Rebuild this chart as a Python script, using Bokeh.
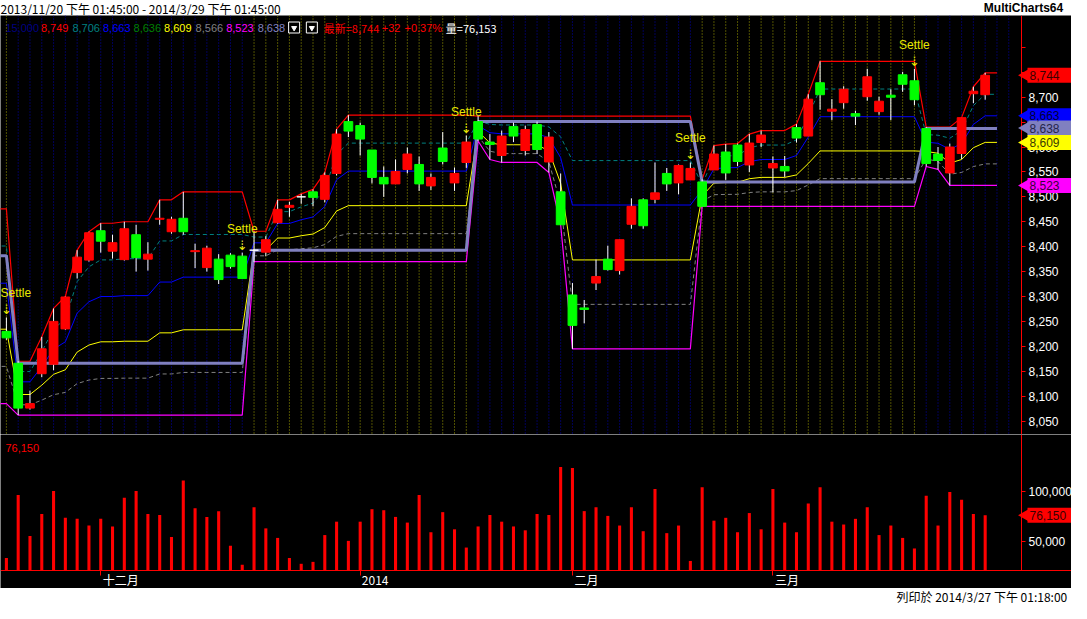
import numpy as np
from bokeh.plotting import figure
from bokeh.models import Range1d, FixedTicker, NumeralTickFormatter, Span, ColumnDataSource, LinearAxis
from bokeh.layouts import column
from bokeh.embed import file_html
from bokeh.resources import INLINE
from bokeh.core.properties import value

# ---------------- data ----------------
TITLE_TEXT = "2013/11/20 下午 01:45:00 - 2014/3/29 下午 01:45:00"
BRAND_TEXT = "MultiCharts64"
PRINT_TEXT = "列印於 2014/3/27 下午 01:18:00"

opens = [8230, 8166, 8076, 8145, 8164, 8235, 8348, 8373, 8432, 8391,
         8374, 8424, 8375, 8455, 8430, 8457, 8390, 8358, 8375, 8383,
         8381, 8393, 8389, 8448, 8479, 8500, 8510, 8495, 8547, 8651,
         8643, 8594, 8539, 8526, 8555, 8565, 8522, 8598, 8528, 8569,
         8651, 8610, 8583, 8641, 8593, 8645, 8570, 8510, 8303, 8277,
         8327, 8375, 8352, 8445, 8494, 8495, 8547, 8528, 8534, 8530,
         8554, 8590, 8604, 8564, 8609, 8558, 8561, 8639, 8622, 8729,
         8672, 8689, 8667, 8701, 8671, 8704, 8745, 8733, 8637, 8586,
         8548, 8587, 8707, 8705]
highs = [8258, 8170, 8111, 8219, 8276, 8300, 8393, 8430, 8447, 8424,
         8450, 8444, 8409, 8494, 8460, 8510, 8406, 8402, 8385, 8387,
         8388, 8431, 8421, 8494, 8490, 8506, 8515, 8549, 8636, 8664,
         8649, 8594, 8561, 8575, 8599, 8581, 8547, 8630, 8559, 8623,
         8662, 8626, 8633, 8649, 8643, 8651, 8630, 8547, 8327, 8293,
         8374, 8402, 8414, 8497, 8497, 8569, 8558, 8565, 8569, 8535,
         8603, 8606, 8607, 8626, 8633, 8581, 8582, 8646, 8706, 8772,
         8696, 8722, 8673, 8757, 8701, 8716, 8751, 8757, 8640, 8600,
         8607, 8659, 8721, 8749]
lows = [8213, 8062, 8073, 8138, 8152, 8233, 8336, 8370, 8388, 8376,
        8372, 8350, 8352, 8444, 8426, 8424, 8357, 8350, 8325, 8356,
        8336, 8369, 8381, 8446, 8460, 8486, 8481, 8489, 8543, 8620,
        8583, 8527, 8500, 8526, 8547, 8512, 8514, 8565, 8512, 8558,
        8612, 8575, 8569, 8610, 8583, 8586, 8549, 8444, 8195, 8246,
        8313, 8352, 8344, 8436, 8436, 8487, 8512, 8505, 8534, 8481,
        8554, 8534, 8562, 8550, 8600, 8509, 8540, 8609, 8622, 8675,
        8654, 8677, 8644, 8693, 8665, 8654, 8711, 8684, 8561, 8555,
        8523, 8576, 8688, 8695]
closes = [8217, 8076, 8085, 8195, 8250, 8299, 8379, 8428, 8411, 8408,
          8436, 8378, 8385, 8457, 8455, 8430, 8392, 8397, 8334, 8360,
          8336, 8393, 8414, 8475, 8483, 8500, 8499, 8543, 8626, 8632,
          8616, 8539, 8526, 8551, 8586, 8526, 8539, 8571, 8547, 8610,
          8616, 8605, 8622, 8622, 8635, 8595, 8620, 8444, 8242, 8274,
          8340, 8354, 8414, 8481, 8442, 8508, 8526, 8563, 8557, 8481,
          8586, 8548, 8571, 8608, 8624, 8567, 8552, 8618, 8696, 8705,
          8676, 8716, 8662, 8741, 8692, 8700, 8726, 8695, 8567, 8573,
          8600, 8659, 8712, 8744]
volumes = [34000, 96200, 55700, 77400, 100000, 73600, 72600, 66000, 72600, 65100,
           93400, 100000, 77400, 76400, 54700, 110400, 83000, 74500, 80200, 46200,
           27400, 84000, 63200, 53800, 34000, 28300, 30200, 56600, 69800, 50900,
           69800, 82100, 81100, 74500, 68900, 96200, 59400, 79200, 62300, 44300,
           65100, 76400, 69800, 65100, 61300, 77400, 76400, 123600, 122600, 80200,
           84000, 75500, 66000, 84000, 60400, 101900, 58500, 66000, 31100, 103800,
           70800, 73600, 59400, 78300, 62300, 101900, 68900, 59400, 87700, 103800,
           69800, 67000, 72600, 84000, 56600, 66000, 53800, 43400, 95300, 66000,
           99100, 91500, 77400, 76150]

month_tick_idx = [8, 30, 48, 65]
month_tick_labels = ["十二月", "2014", "二月", "三月"]
settle_idx = [0, 20, 39, 58, 77]

# indicator lines (bar -1 .. 84)
line_x = list(range(-1, 85))
period_high = [8476, 8476,
               8170, 8170, 8219, 8276, 8300, 8393, 8430, 8447, 8447, 8450,
               8450, 8450, 8494, 8494, 8510, 8510, 8510, 8510, 8510, 8510,
               8431, 8431, 8494, 8494, 8506, 8515, 8549, 8636, 8664, 8664,
               8664, 8664, 8664, 8664, 8664, 8664, 8664, 8664, 8664,
               8662, 8662, 8662, 8662, 8662, 8662, 8662, 8662, 8662, 8662,
               8662, 8662, 8662, 8662, 8662, 8662, 8662, 8662, 8662,
               8535, 8603, 8606, 8607, 8626, 8633, 8633, 8633, 8646, 8706,
               8772, 8772, 8772, 8772, 8772, 8772, 8772, 8772, 8772,
               8640, 8640, 8640, 8659, 8721, 8749, 8749]
period_low = [8085, 8085,
              8062, 8062, 8062, 8062, 8062, 8062, 8062, 8062, 8062, 8062,
              8062, 8062, 8062, 8062, 8062, 8062, 8062, 8062, 8062, 8062,
              8370, 8370, 8370, 8370, 8370, 8370, 8370, 8370, 8370, 8370,
              8370, 8370, 8370, 8370, 8370, 8370, 8370, 8370, 8370,
              8612, 8575, 8569, 8569, 8569, 8569, 8549, 8444,
              8195, 8195, 8195, 8195, 8195, 8195, 8195, 8195, 8195, 8195, 8195,
              8481, 8481, 8481, 8481, 8481, 8481, 8481, 8481, 8481, 8481,
              8481, 8481, 8481, 8481, 8481, 8481, 8481, 8481, 8481,
              8561, 8555, 8523, 8523, 8523, 8523, 8523]
period_open = [8382, 8382,
               8166, 8166, 8166, 8166, 8166, 8166, 8166, 8166, 8166, 8166,
               8166, 8166, 8166, 8166, 8166, 8166, 8166, 8166, 8166, 8166,
               8393, 8393, 8393, 8393, 8393, 8393, 8393, 8393, 8393, 8393,
               8393, 8393, 8393, 8393, 8393, 8393, 8393, 8393, 8393,
               8651, 8651, 8651, 8651, 8651, 8651, 8651, 8651, 8651, 8651,
               8651, 8651, 8651, 8651, 8651, 8651, 8651, 8651, 8651,
               8530, 8530, 8530, 8530, 8530, 8530, 8530, 8530, 8530, 8530,
               8530, 8530, 8530, 8530, 8530, 8530, 8530, 8530, 8530,
               8637, 8637, 8637, 8637, 8637, 8637, 8637]
fib_levels = [0.809, 0.618, 0.382, 0.191]

header_texts = ["15,000", "8,749", "8,706", "8,663", "8,636", "8,609", "8,566", "8,523", "8,638",
                "最新=8,744", "+32", "+0.37%", "量=76,153"]
price_tag_values = [8744, 8663, 8638, 8609, 8523]
volume_tag_value = 76150
price_ticks = [8050, 8100, 8150, 8200, 8250, 8300, 8350, 8400, 8450, 8500,
               8550, 8600, 8650, 8700, 8750, 8800]
volume_ticks = [50000, 100000]

# ---------------- styles / layout ----------------
RED, GREEN = "#FF0000", "#00FF00"
TEAL, BLUE, YEL, GRAY, MAG, LAV = "#008080", "#0000FF", "#FFFF00", "#808080", "#FF00FF", "#8080C0"
header_colors = ["#000080", RED, TEAL, BLUE, "#008000", YEL, GRAY, MAG, LAV, RED, RED, RED, "#FFFFFF"]
tag_colors = [RED, BLUE, LAV, YEL, MAG]
tag_text_colors = ["#3A0000", "#00003A", "#25254A", "#3A3A00", "#3A003A"]

W = 1071
AXIS_W = 50
FRAME_MAIN = W - AXIS_W              # width of the bar area
TITLE_H, PRICE_H, VOL_H, FOOT_H = 15, 419, 154, 15
DATE_H = 18                          # date strip at the bottom of the volume pane
SX = W / 1087.0
X_LO, X_HI = -0.5, 86.08             # bar-index span of the bar area
PX_PER_BAR = FRAME_MAIN / (X_HI - X_LO)
X_FULL = X_LO + W / PX_PER_BAR
PRICE_LO, PRICE_HI = 8023, 8864
VOL_LO, VOL_HI = 21700, 155700
VOL_BOTTOM = VOL_LO - DATE_H * (VOL_HI - VOL_LO) / (VOL_H - DATE_H)
MONTH_LABEL_SHIFT_PX = [20, 15, 14, 14]   # month labels sit just right of their tick
NUM_FONT = value("Liberation Sans")
CJK_FONT = value("Noto Sans CJK TC")

x_range = Range1d(X_LO, X_FULL)


def strip(f):
    f.min_border_left = 0
    f.min_border_right = 0
    f.min_border_top = 0
    f.min_border_bottom = 0
    f.outline_line_color = None
    f.xgrid.visible = False
    f.ygrid.visible = False
    return f


def style_axis(ax, size="12px"):
    ax.axis_line_color = RED
    ax.major_tick_line_color = RED
    ax.minor_tick_line_color = None
    ax.major_tick_in = 0
    ax.major_tick_out = 4
    ax.major_label_text_color = "#FFFFFF"
    ax.major_label_text_font = "Liberation Sans"
    ax.major_label_text_font_size = size
    ax.major_label_standoff = 3


def add_tags(fig, vals, bgs, fgs):
    n = len(vals)
    x0 = FRAME_MAIN + 6
    fig.rect(x=[(x0 + W) / 2] * n, y=vals, width=W - x0, height=15, height_units="screen",
             fill_color=bgs, line_color=None, x_range_name="px", level="overlay")
    fig.scatter(x=[FRAME_MAIN + 3.5] * n, y=vals, marker="triangle", angle=90, angle_units="deg",
                size=12, fill_color=bgs, line_color=None, x_range_name="px", level="overlay")
    fig.text(x=[x0 + 2] * n, y=vals, text=[f"{q:,}" for q in vals], text_color=fgs,
             text_font=NUM_FONT, text_font_size="12px", text_baseline="middle", text_align="left",
             x_range_name="px", level="overlay")


# ---- title bar ----
tfig = figure(width=W, height=TITLE_H, x_range=Range1d(0, W), y_range=Range1d(0, TITLE_H),
              x_axis_location=None, y_axis_location=None, toolbar_location=None, output_backend="svg")
strip(tfig)
tfig.background_fill_color = "white"; tfig.border_fill_color = "white"
tfig.text(x=[0], y=[TITLE_H / 2], text=[TITLE_TEXT], text_font=CJK_FONT, text_font_size="12px",
          text_color="black", text_baseline="middle", text_align="left")
tfig.text(x=[998 * SX], y=[TITLE_H / 2], text=[BRAND_TEXT], text_font=NUM_FONT, text_font_size="12px",
          text_font_style="bold", text_color="black", text_baseline="middle", text_align="left")

# ---- price pane ----
p = figure(width=W, height=PRICE_H, x_range=x_range, y_range=Range1d(PRICE_LO, PRICE_HI),
           x_axis_location=None, y_axis_location="right", toolbar_location=None, output_backend="svg")
strip(p)
p.background_fill_color = "black"
p.border_fill_color = "black"
p.extra_x_ranges = {"px": Range1d(0, W)}
p.extra_y_ranges = {"py": Range1d(PRICE_H, 0)}

ax = p.yaxis[0]
style_axis(ax)
ax.fixed_location = X_HI
ax.ticker = FixedTicker(ticks=price_ticks)
ax.formatter = NumeralTickFormatter(format="0,0")
ax.major_label_overrides = {8800: ""}

# vertical dotted grid, coloured by settlement cycle
for i in range(0, 86):
    k = sum(1 for s in settle_idx if s < i)
    col = "#A0A000" if k % 2 == 0 else "#0000B0"
    p.add_layout(Span(location=i, dimension="height", line_color=col, line_dash="1 2",
                      line_width=1, level="underlay"))

# indicator lines
hh = np.array(period_high, dtype=float)
ll = np.array(period_low, dtype=float)
rng = hh - ll
p.line(line_x, ll + fib_levels[3] * rng, line_color=GRAY, line_dash="4 3", line_width=1)
p.line(line_x, ll + fib_levels[2] * rng, line_color=YEL, line_width=1)
p.line(line_x, ll + fib_levels[1] * rng, line_color=BLUE, line_width=1)
p.line(line_x, ll + fib_levels[0] * rng, line_color=TEAL, line_dash="4 3", line_width=1)
p.line(line_x, period_low, line_color=MAG, line_width=1.2)
p.line(line_x, period_high, line_color=RED, line_width=1.2)
p.line(line_x, period_open, line_color=LAV, line_width=3)

# candles
o = np.array(opens); c = np.array(closes)
ccol = np.where(c > o, RED, np.where(c < o, GREEN, "#FFFFFF"))
src = ColumnDataSource(dict(x=np.arange(len(opens)), top=np.maximum(o, c), bottom=np.minimum(o, c),
                            high=highs, low=lows, color=ccol))
p.segment(x0="x", y0="low", x1="x", y1="high", line_color="white", line_width=1, source=src)
p.vbar(x="x", width=0.74, top="top", bottom="bottom", fill_color="color", line_color="color",
       line_width=1, source=src)

# settlement markers (first one kept inside the left edge)
s_hi = [highs[i] for i in settle_idx]
p.text(x=[X_LO] + settle_idx[1:], y=s_hi, text=["Settle"] * len(settle_idx), text_color="#E8E800",
       text_font=NUM_FONT, text_font_size="12px",
       text_align=["left"] + ["center"] * (len(settle_idx) - 1), text_baseline="bottom",
       y_offset=-17)
p.text(x=settle_idx, y=s_hi, text=["⇣"] * len(settle_idx), text_color="#E8E800",
       text_font=value("DejaVu Sans"), text_font_size="13px", text_align="center",
       text_baseline="bottom", y_offset=0)

# header row
hx_orig = [5, 41, 73, 104, 135, 166, 198, 229, 261, 328, 387, 410, 452]
hfonts = ["Noto Sans CJK TC" if any(ord(ch) > 127 for ch in t) else "Liberation Sans" for t in header_texts]
hsrc = ColumnDataSource(dict(x=[q * SX for q in hx_orig], y=[12] * len(hx_orig),
                             text=header_texts, color=header_colors, font=hfonts))
p.text(x="x", y="y", text="text", text_color="color", text_font="font", source=hsrc,
       text_font_size="11px", text_baseline="middle", text_align="left",
       x_range_name="px", y_range_name="py")
bx = [298 * SX, 316 * SX]
p.rect(x=bx, y=[12, 12], width=11, height=11, fill_color="black", line_color="white",
       x_range_name="px", y_range_name="py")
p.scatter(x=bx, y=[12.5, 12.5], marker="inverted_triangle", size=5, fill_color="white",
          line_color="white", x_range_name="px", y_range_name="py")

add_tags(p, price_tag_values, tag_colors, tag_text_colors)

# ---- volume pane (date strip kept inside the frame) ----
vf = figure(width=W, height=VOL_H, x_range=x_range, y_range=Range1d(VOL_BOTTOM, VOL_HI),
            x_axis_location="below", y_axis_location="right", toolbar_location=None, output_backend="svg")
strip(vf)
vf.background_fill_color = "black"
vf.border_fill_color = "black"
vf.extra_x_ranges = {"px": Range1d(0, W)}
vf.extra_y_ranges = {"py": Range1d(VOL_H, 0)}
vy = vf.yaxis[0]
style_axis(vy)
vy.fixed_location = X_HI
vy.ticker = FixedTicker(ticks=volume_ticks)
vy.formatter = NumeralTickFormatter(format="0,0")
vy.bounds = (VOL_LO, VOL_HI)

# date axis: red baseline + month tick marks
vx = vf.xaxis[0]
style_axis(vx)
vx.fixed_location = VOL_LO
vx.ticker = FixedTicker(ticks=month_tick_idx)
vx.major_label_overrides = {t: "" for t in month_tick_idx}
vx.major_tick_out = 5

# month labels, each set just to the right of its tick
label_pos = [t + s / PX_PER_BAR for t, s in zip(month_tick_idx, MONTH_LABEL_SHIFT_PX)]
mx = LinearAxis(fixed_location=VOL_LO, ticker=FixedTicker(ticks=label_pos),
                major_label_overrides={q: s for q, s in zip(label_pos, month_tick_labels)})
mx.axis_line_color = None
mx.major_tick_line_color = None
mx.minor_tick_line_color = None
mx.major_tick_out = 0
mx.major_tick_in = 0
mx.major_label_standoff = 0
mx.major_label_text_color = "#FFFFFF"
mx.major_label_text_font = "Noto Sans CJK TC"
mx.major_label_text_font_size = "12px"
vf.add_layout(mx, "below")

vf.vbar(x=np.arange(len(volumes)), width=0.26, top=volumes, bottom=VOL_LO, fill_color=RED, line_color=None)
vf.text(x=[5 * SX], y=[13], text=[f"{volumes[-1]:,}"], text_color=RED, text_font=NUM_FONT,
        text_font_size="11px", text_baseline="middle", text_align="left",
        x_range_name="px", y_range_name="py")
add_tags(vf, [volume_tag_value], [RED], ["#3A0000"])

# ---- footer ----
ffig = figure(width=W, height=FOOT_H, x_range=Range1d(0, W), y_range=Range1d(0, FOOT_H),
              x_axis_location=None, y_axis_location=None, toolbar_location=None, output_backend="svg")
strip(ffig)
ffig.background_fill_color = "white"; ffig.border_fill_color = "white"
ffig.text(x=[896], y=[FOOT_H / 2], text=[PRINT_TEXT], text_font=CJK_FONT, text_font_size="12px",
          text_color="black", text_baseline="middle", text_align="left")

layout = column(tfig, p, vf, ffig, spacing=0)
open("out.html", "w").write(file_html(layout, INLINE))
